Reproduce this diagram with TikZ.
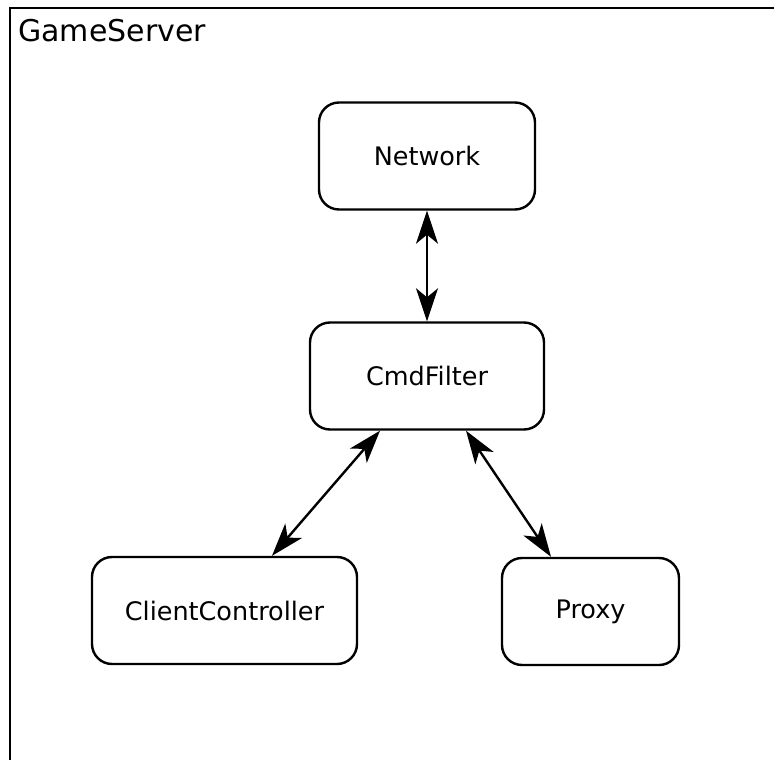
\documentclass[tikz,border=0pt]{standalone}
\usepackage{fontspec}
\setmainfont{DejaVu Sans}
\usetikzlibrary{arrows.meta}
\begin{document}
\begin{tikzpicture}[x=1pt,y=-1pt,
  box/.style={draw, line width=2.4pt, rounded corners=20pt, minimum height=107pt, inner sep=0pt, font=\fontsize{25.5}{30}\selectfont},
  link/.style={line width=2.4pt, {Stealth[length=33pt,width=22pt,inset=9pt]}-{Stealth[length=33pt,width=22pt,inset=9pt]}}]
\useasboundingbox (0,0) rectangle (774,760);
\draw[line width=2.4pt] (10,761) -- (10,8) -- (775,8);
\node[anchor=west, inner sep=0pt, font=\fontsize{30}{35}\selectfont] (title) at (18,31) {GameServer};
\node[box, minimum width=216pt] (net) at (427,156) {Network};
\node[box, minimum width=234pt] (cmd) at (427,376) {CmdFilter};
\node[box, minimum width=265pt] (cc) at (224.5,610.5) {ClientController};
\node[box, minimum width=177pt] (px) at (590.5,611.5) {Proxy};
\draw[link] (net.south) -- (cmd.north);
\draw[link] ([xshift=-47pt]cmd.south) -- ([xshift=47.5pt]cc.north);
\draw[link] ([xshift=39pt]cmd.south) -- ([xshift=-39.5pt]px.north);
\end{tikzpicture}
\end{document}
